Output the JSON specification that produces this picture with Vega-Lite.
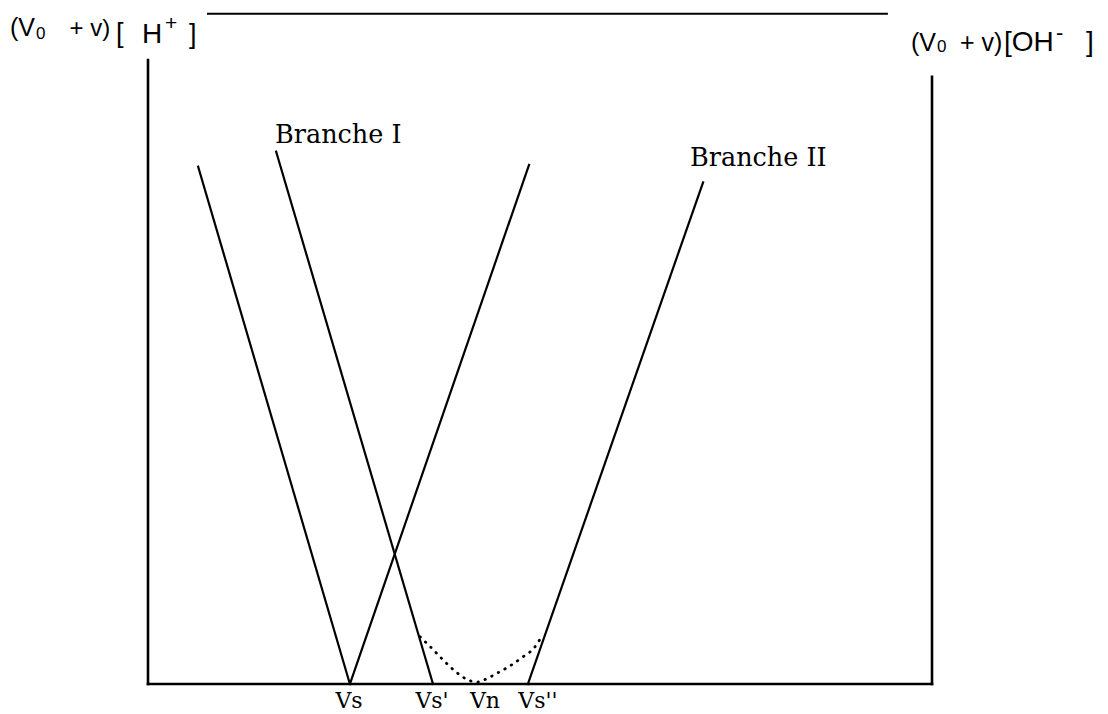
{
  "$schema": "https://vega.github.io/schema/vega-lite/v6.json",
  "width": 1108,
  "height": 714,
  "padding": 0,
  "autosize": {"type": "none"},
  "background": "white",
  "config": {"view": {"stroke": null}},
  "datasets": {
    "segs": [
      {"part": "left axis", "v": 0, "y": 0, "v2": 0, "y2": 100, "w": 2.6},
      {"part": "right axis", "v": 20, "y": 0, "v2": 20, "y2": 97.3, "w": 2.6},
      {"part": "bottom axis", "v": 0, "y": 0, "v2": 20, "y2": 0, "w": 2.6},
      {"part": "top bar", "v": 1.53, "y": 107.4, "v2": 18.85, "y2": 107.4, "w": 2},
      {"part": "acid 1", "v": 1.28, "y": 82.9, "v2": 5.15, "y2": 0, "w": 2.2},
      {"part": "base 1", "v": 5.15, "y": 0, "v2": 9.72, "y2": 83.2, "w": 2.2},
      {"part": "branche I", "v": 3.27, "y": 85.3, "v2": 7.27, "y2": 0, "w": 2.2},
      {"part": "branche II", "v": 9.69, "y": 0, "v2": 14.16, "y2": 80.4, "w": 2.2}
    ],
    "curve": [
      {"v": 6.94, "y": 7.58},
      {"v": 7.24, "y": 5.72},
      {"v": 7.53, "y": 3.85},
      {"v": 7.88, "y": 1.81},
      {"v": 8.21, "y": 0.53},
      {"v": 8.39, "y": 0.3},
      {"v": 8.55, "y": 0.6},
      {"v": 8.90, "y": 1.71},
      {"v": 9.23, "y": 2.88},
      {"v": 9.57, "y": 4.38},
      {"v": 9.84, "y": 5.7},
      {"v": 10.04, "y": 7.58}
    ],
    "sans": [
      {"t": "(V", "v": -3.520, "y": 103.85, "s": 25},
      {"t": "0", "v": -2.857, "y": 103.37, "s": 17},
      {"t": "+ v)", "v": -2.0, "y": 103.85, "s": 24},
      {"t": "[", "v": -0.816, "y": 102.88, "s": 27},
      {"t": "H", "v": -0.153, "y": 102.72, "s": 28},
      {"t": "+", "v": 0.434, "y": 104.81, "s": 21},
      {"t": "]", "v": 1.046, "y": 102.72, "s": 27},
      {"t": "(V", "v": 19.464, "y": 101.44, "s": 25},
      {"t": "0", "v": 20.128, "y": 101.28, "s": 17},
      {"t": "+ v)", "v": 20.714, "y": 101.44, "s": 25},
      {"t": "[OH", "v": 21.837, "y": 101.44, "s": 28},
      {"t": "-", "v": 23.163, "y": 103.21, "s": 22},
      {"t": "]", "v": 23.929, "y": 101.44, "s": 28}
    ],
    "branches": [
      {"t": "Branche I", "v": 3.24, "y": 86.7},
      {"t": "Branche II", "v": 13.827, "y": 83.01}
    ],
    "ticks": [
      {"t": "Vs", "v": 5.128, "y": -3.846},
      {"t": "Vs'", "v": 7.245, "y": -3.846},
      {"t": "Vn", "v": 8.597, "y": -3.846},
      {"t": "Vs''", "v": 9.949, "y": -3.846}
    ]
  },
  "layer": [
    {
      "data": {"name": "segs"},
      "mark": {"type": "rule", "color": "black", "strokeCap": "square"},
      "encoding": {
        "x": {"field": "v", "type": "quantitative", "scale": {"domain": [-3.7755, 24.4898], "nice": false, "zero": false}, "axis": null},
        "y": {"field": "y", "type": "quantitative", "scale": {"domain": [-4.8077, 109.615], "nice": false, "zero": false}, "axis": null},
        "x2": {"field": "v2"},
        "y2": {"field": "y2"},
        "strokeWidth": {"field": "w", "type": "quantitative", "scale": null}
      }
    },
    {
      "data": {"name": "curve"},
      "mark": {"type": "line", "color": "black", "strokeWidth": 2.8, "strokeDash": [0.5, 7], "strokeCap": "round", "interpolate": "monotone"},
      "encoding": {
        "x": {"field": "v", "type": "quantitative"},
        "y": {"field": "y", "type": "quantitative"}
      }
    },
    {
      "data": {"name": "sans"},
      "mark": {"type": "text", "align": "left", "baseline": "alphabetic", "font": "Liberation Sans", "color": "black"},
      "encoding": {
        "x": {"field": "v", "type": "quantitative"},
        "y": {"field": "y", "type": "quantitative"},
        "size": {"field": "s", "type": "quantitative", "scale": null},
        "text": {"field": "t"}
      }
    },
    {
      "data": {"name": "branches"},
      "mark": {"type": "text", "align": "left", "baseline": "alphabetic", "font": "DejaVu Serif", "fontSize": 25.5, "color": "black"},
      "encoding": {
        "x": {"field": "v", "type": "quantitative"},
        "y": {"field": "y", "type": "quantitative"},
        "text": {"field": "t"}
      }
    },
    {
      "data": {"name": "ticks"},
      "mark": {"type": "text", "align": "center", "baseline": "alphabetic", "font": "DejaVu Serif", "fontSize": 22, "color": "black"},
      "encoding": {
        "x": {"field": "v", "type": "quantitative"},
        "y": {"field": "y", "type": "quantitative"},
        "text": {"field": "t"}
      }
    }
  ]
}
